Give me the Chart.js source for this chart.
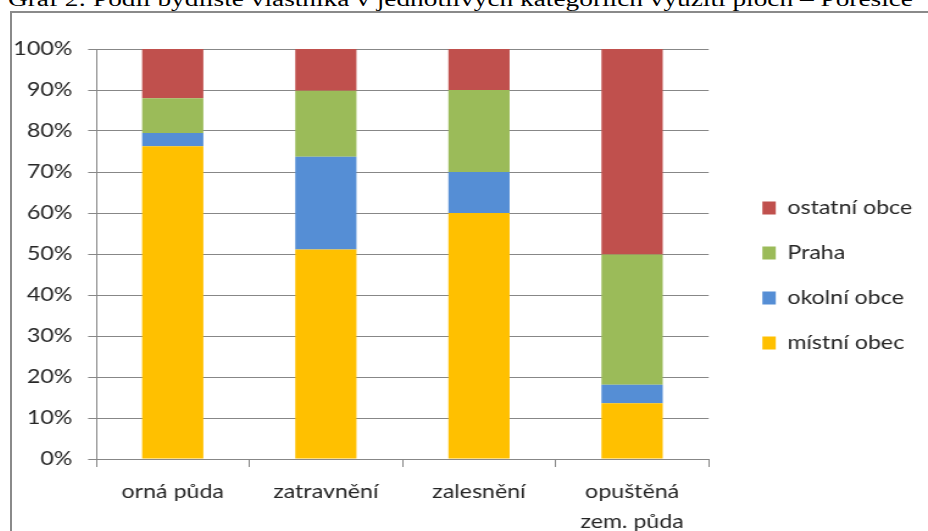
<!DOCTYPE html>
<html lang="cs">
<head>
<meta charset="utf-8">
<script src="https://cdn.jsdelivr.net/npm/chart.js@4.4.1/dist/chart.umd.min.js"></script>
<style>
    html, body { margin: 0; padding: 0; background: #fff; }
    body { width: 928px; height: 531px; overflow: hidden; position: relative; }
    #titulek {
        position: absolute; left: 8px; top: -11px;
        font-family: "Liberation Serif", serif; font-size: 20px; line-height: 20px;
        white-space: nowrap; color: #000; transform-origin: 0 0;
    }
    #ramecek {
        position: absolute; left: 10px; top: 11px; width: 1000px; height: 600px;
        border: 2px solid #8a8a8a;
    }
    #graf { position: absolute; left: 12px; top: 13px; }
</style>
</head>
<body>
<div id="titulek">Graf 2: Podíl bydliště vlastníka v jednotlivých kategoriích využití ploch – Porešice</div>
<div id="ramecek"></div>
<!-- originál je vodorovně roztažený, proto se plátno kreslí užší a natáhne se -->
<canvas id="graf" width="751" height="518" style="width:916px;height:518px"></canvas>
<script>
    // kategorie využití ploch
    const kategorie = ['orná půda', 'zatravnění', 'zalesnění', ['opuštěná', 'zem. půda']];

    // podíly v %
    const mistniObec = [76.3, 51.1, 60.0, 13.6];
    const okolniObce = [3.2, 22.6, 10.0, 4.5];
    const praha = [8.5, 16.1, 20.0, 31.8];
    const ostatniObce = [12.0, 10.2, 10.0, 50.1];

    const osaY = [0, 10, 20, 30, 40, 50, 60, 70, 80, 90, 100];

    // roztáhnout titulek na šířku jako v originále
    const titulek = document.getElementById('titulek');
    const sirka = titulek.getBoundingClientRect().width;
    titulek.style.transform = 'scaleX(' + (905 / sirka) + ')';

    const seda = '#878787';
    const text = '#262626';
    const pismo = { family: 'Lato', size: 19 };

    // posune legendu kousek doprava od grafu
    const posunLegendy = {
        id: 'posunLegendy',
        afterLayout(chart) {
            const lg = chart.legend;
            const d = chart.chartArea.right + 18 - lg.left;
            lg.left += d;
            lg.right += d;
        }
    };

    new Chart(document.getElementById('graf').getContext('2d'), {
        type: 'bar',
        data: {
            labels: kategorie,
            datasets: [
                { label: 'místní obec', data: mistniObec, backgroundColor: '#FFC000' },
                { label: 'okolní obce', data: okolniObce, backgroundColor: '#558ED5' },
                { label: 'Praha', data: praha, backgroundColor: '#9BBB59' },
                { label: 'ostatní obce', data: ostatniObce, backgroundColor: '#C0504D' }
            ]
        },
        options: {
            responsive: false,
            animation: false,
            devicePixelRatio: 1,
            layout: { padding: { top: 7, right: 21, left: 0, bottom: 0 } },
            datasets: { bar: { categoryPercentage: 1, barPercentage: 0.4 } },
            scales: {
                x: {
                    stacked: true,
                    afterFit: s => { s.height = 72; },
                    grid: { drawOnChartArea: false, drawTicks: true, tickLength: 8, color: seda, offset: true },
                    border: { color: seda },
                    ticks: { color: text, font: { family: 'Lato', size: 19, lineHeight: 1.58 }, padding: 10, maxRotation: 0 }
                },
                y: {
                    stacked: true,
                    min: 0,
                    max: 100,
                    afterFit: s => { s.width = 69; },
                    afterBuildTicks: s => { s.ticks = osaY.map(v => ({ value: v })); },
                    grid: { color: seda, tickLength: 6.6 },
                    border: { color: seda },
                    ticks: { color: text, font: pismo, padding: 13, callback: v => v + '%' }
                }
            },
            plugins: {
                title: {
                    display: true,
                    text: ' ',
                    fullSize: false,
                    font: { size: 10, lineHeight: 1 },
                    padding: { top: 19, bottom: 0 }
                },
                legend: {
                    position: 'right',
                    reverse: true,
                    labels: {
                        boxWidth: 11,
                        boxHeight: 13,
                        padding: 26,
                        color: text,
                        font: pismo
                    }
                },
                tooltip: { enabled: false }
            }
        },
        plugins: [posunLegendy]
    });
</script>
</body>
</html>
